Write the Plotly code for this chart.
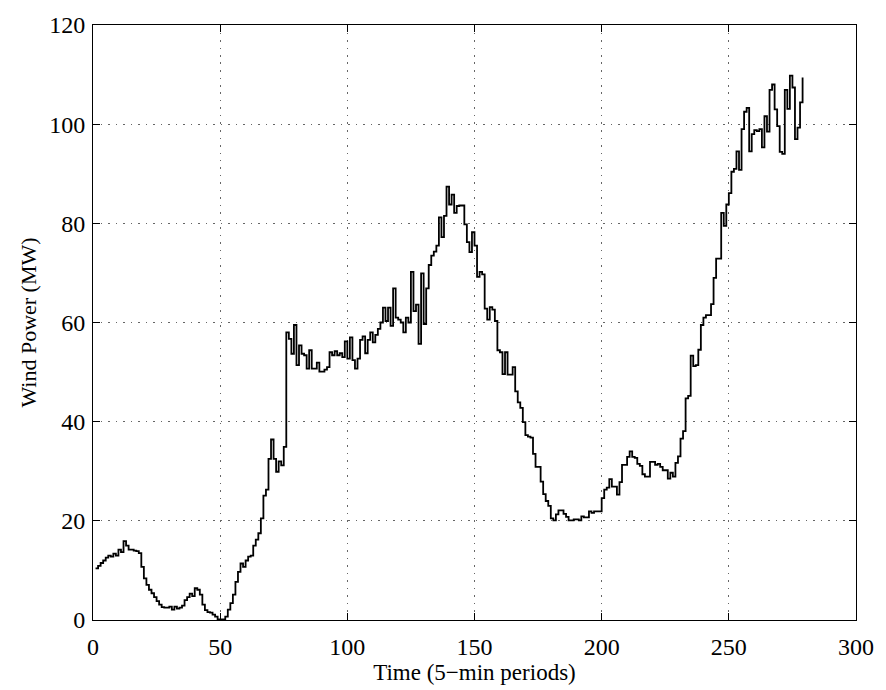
import plotly.graph_objects as go

# Wind power (MW) per 5-min period
periods = list(range(1, 280))
wind_power = [
    10.4, 10.9, 11.5, 12.0, 12.6, 13.0, 12.8, 13.4, 13.0, 14.2,
    13.7, 15.9, 15.0, 14.2, 14.2, 14.0, 13.9, 13.5, 10.7, 8.4,
    7.1, 6.1, 5.4, 4.6, 3.8, 3.1, 2.6, 2.5, 2.5, 2.7,
    2.1, 2.7, 2.3, 2.5, 2.9, 4.0, 4.6, 5.3, 4.8, 6.4,
    6.1, 5.1, 3.1, 2.0, 1.6, 1.5, 1.1, 0.7, 0.1, 0.1,
    0.1, 0.7, 2.1, 3.4, 5.1, 7.7, 9.7, 11.4, 10.7, 12.0,
    12.8, 13.0, 15.0, 16.2, 17.5, 20.5, 25.1, 26.3, 32.5, 36.4,
    32.5, 29.9, 32.0, 31.2, 34.9, 58.0, 56.7, 53.7, 59.5, 51.4,
    55.4, 53.7, 53.4, 50.7, 54.4, 50.7, 50.7, 51.9, 50.1, 50.1,
    50.5, 51.0, 54.0, 53.4, 54.2, 53.4, 53.8, 53.0, 56.2, 52.7,
    57.0, 52.4, 50.7, 52.7, 56.5, 57.2, 53.8, 56.5, 58.0, 56.0,
    57.5, 58.7, 60.0, 63.0, 60.3, 63.0, 59.3, 66.9, 61.0, 60.6,
    60.0, 58.0, 61.0, 60.0, 70.2, 62.3, 63.6, 55.7, 69.9, 59.7,
    66.9, 71.6, 73.5, 74.3, 75.5, 81.2, 77.2, 81.5, 87.4, 83.8,
    85.8, 82.1, 83.5, 83.6, 83.6, 79.8, 76.2, 74.2, 78.2, 75.5,
    69.2, 70.2, 69.7, 62.8, 60.6, 63.1, 62.6, 60.3, 54.4, 54.0,
    49.6, 54.0, 49.5, 49.5, 51.0, 46.1, 43.9, 42.8, 39.9, 37.3,
    37.0, 36.8, 33.5, 30.9, 30.9, 27.9, 25.4, 24.0, 23.0, 20.5,
    20.1, 21.3, 22.1, 22.1, 21.4, 20.8, 20.1, 20.1, 20.3, 20.3,
    20.1, 20.9, 20.7, 20.7, 21.9, 21.6, 21.9, 21.9, 21.9, 24.6,
    26.3, 26.7, 28.4, 26.9, 26.9, 25.3, 27.8, 31.3, 31.3, 32.9,
    34.0, 32.9, 32.7, 31.5, 31.1, 29.4, 28.9, 28.9, 31.9, 31.9,
    31.3, 31.5, 30.9, 30.2, 30.2, 28.5, 29.7, 28.9, 31.7, 33.0,
    36.6, 38.1, 44.7, 45.2, 53.3, 51.2, 51.4, 54.5, 59.5, 61.0,
    61.5, 61.5, 63.7, 69.0, 72.9, 72.9, 82.1, 79.5, 83.8, 86.1,
    90.4, 91.0, 94.5, 90.8, 99.0, 102.5, 103.3, 94.5, 98.0, 98.8,
    98.6, 99.0, 95.3, 101.6, 98.5, 106.9, 108.0, 103.0, 99.6, 94.4,
    94.0, 106.9, 103.1, 109.8, 107.4, 97.0, 99.3, 104.4, 109.4,
]

x_ticks = [0, 50, 100, 150, 200, 250, 300]
y_ticks = [0, 20, 40, 60, 80, 100, 120]

font_family = "Liberation Serif, Times New Roman, serif"

fig = go.Figure()
fig.add_trace(go.Scatter(
    x=periods, y=wind_power, mode="lines",
    line=dict(color="black", width=1.8, shape="hv"),
    showlegend=False, hoverinfo="x+y",
))

axis_common = dict(
    showline=True, linecolor="black", linewidth=1, mirror="ticks",
    ticks="inside", ticklen=7, tickcolor="black", tickwidth=1,
    showgrid=True, gridcolor="rgba(0,0,0,0.6)", griddash="1.5px,6px", gridwidth=1,
    zeroline=False,
    tickfont=dict(family=font_family, size=24, color="black"),
)

fig.update_xaxes(
    range=[0, 300], tickvals=x_ticks, ticktext=[str(v) for v in x_ticks],
    ticklabelstandoff=5,
    title=dict(text="Time (5\u2212min periods)", standoff=2,
               font=dict(family=font_family, size=23, color="black")),
    **axis_common,
)
fig.update_yaxes(
    range=[0, 120], tickvals=y_ticks, ticktext=[str(v) for v in y_ticks],
    ticklabelstandoff=2,
    title=dict(text="Wind Power (MW)", standoff=6,
               font=dict(family=font_family, size=22, color="black")),
    **axis_common,
)

fig.update_layout(
    width=886, height=690,
    margin=dict(l=93, r=26, t=16, b=69),
    paper_bgcolor="white", plot_bgcolor="white",
    font=dict(family=font_family, color="black"),
)

fig.write_html("out.html")
